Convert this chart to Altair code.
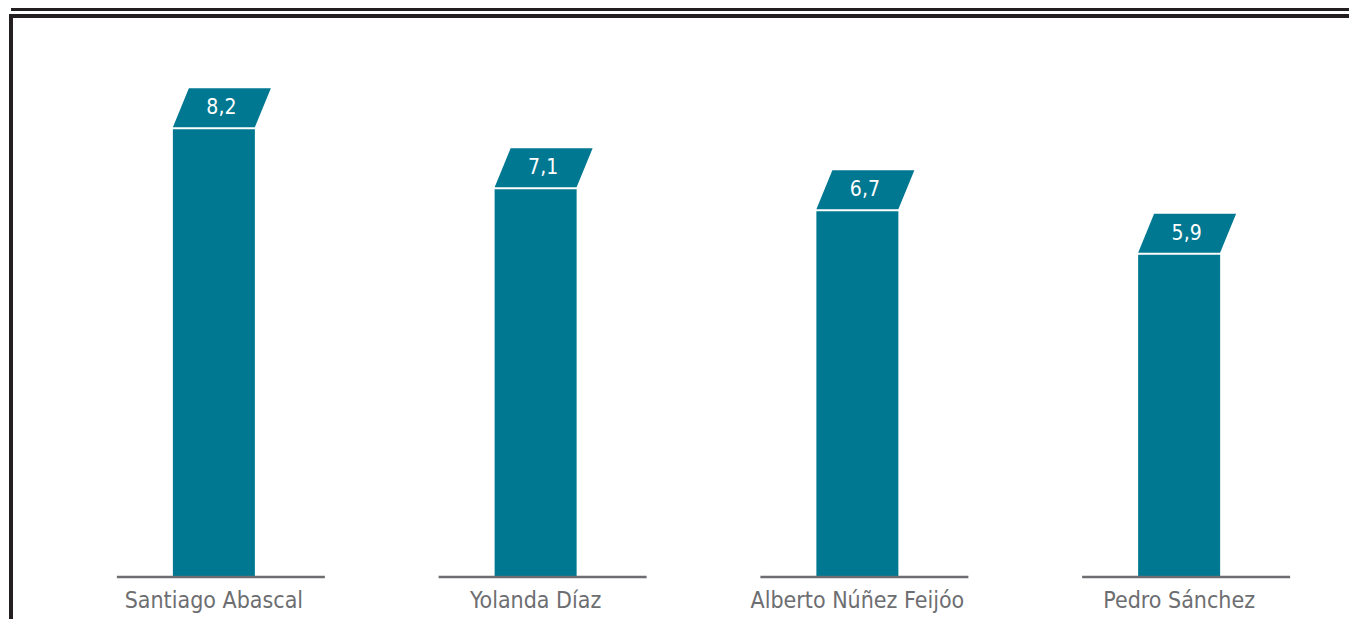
import altair as alt
import pandas as pd

names = ["Santiago Abascal", "Yolanda Díaz", "Alberto Núñez Feijóo", "Pedro Sánchez"]
values = [8.2, 7.1, 6.7, 5.9]

df = pd.DataFrame({"name": names, "value": values})
one = pd.DataFrame({"k": [0]})

TEAL = "#007891"
GRAY = "#6d6e71"
DARK = "#231f20"
FONT = "DejaVu Sans Condensed"

xscale = alt.Scale(domain=names, range=[45, 1332], paddingInner=0, paddingOuter=0)
yscale = alt.Scale(domain=[0, 10.42], nice=False, zero=True)

xaxis = alt.Axis(title=None, domain=False, ticks=False, tickSize=0,
                 labelAngle=0, labelFont=FONT, labelFontSize=23,
                 labelColor=GRAY, labelPadding=30, labelLimit=0,
                 labelBaseline="alphabetic", grid=False)
xenc = alt.X("name:N", scale=xscale, sort=names, axis=xaxis)
yenc = alt.Y("value:Q", scale=yscale, axis=None)

base = alt.Chart(df)

bars = base.mark_bar(size=82, color=TEAL).encode(x=xenc, y=yenc)

baseline = base.transform_calculate(zero="0").mark_tick(
    size=208, thickness=2.5, color=GRAY, xOffset=7, opacity=1).encode(
    x=xenc, y=alt.Y("zero:Q", scale=yscale, axis=None))

para = "M -0.683 0.325 L 0.683 0.325 L 0.95 -0.325 L -0.417 -0.325 Z"
boxes = base.mark_point(shape=para, size=14400, filled=True, color=TEAL,
                        opacity=1, strokeWidth=0, yOffset=-21.5).encode(
    x=xenc, y=yenc)

labels = base.transform_calculate(
    lab="replace(format(datum.value, '.1f'), '.', ',')"
).mark_text(color="white", font=FONT, fontSize=21, baseline="alphabetic",
            align="center", xOffset=7.5, yOffset=-15).encode(
    x=xenc, y=yenc, text="lab:N")

topline = alt.Chart(one).mark_rule(color=DARK, strokeWidth=3).encode(
    x=alt.value(3), x2=alt.value(1345), y=alt.value(1.5))
frame_top = alt.Chart(one).mark_rule(color=DARK, strokeWidth=4).encode(
    x=alt.value(1), x2=alt.value(1345), y=alt.value(8))
frame_left = alt.Chart(one).mark_rule(color=DARK, strokeWidth=4).encode(
    x=alt.value(3), y=alt.value(6), y2=alt.value(620))

chart = alt.layer(bars, baseline, boxes, labels, topline, frame_top, frame_left).properties(
    width=1341, height=569,
    background="white",
    autosize=alt.AutoSizeParams(type="none"),
    padding={"left": 0, "top": 0, "right": 0, "bottom": 42},
).configure_view(stroke="transparent", strokeWidth=0).configure_axis(
    domain=False, grid=False, ticks=False
)

chart.save("out.html", embed_options={"renderer": "svg", "actions": False})
